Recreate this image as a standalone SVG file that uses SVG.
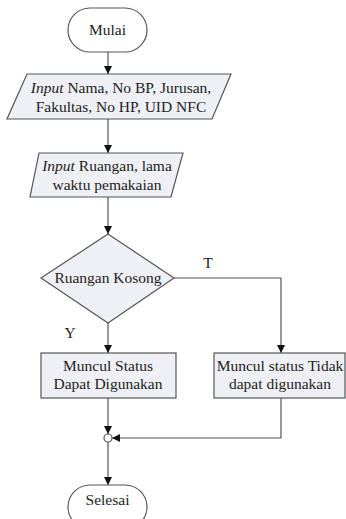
<svg xmlns="http://www.w3.org/2000/svg" width="346" height="519" viewBox="0 0 346 519">
<style>
.s{fill:#eef0f5;stroke:#555;stroke-width:1.2}
.t{font-family:'Liberation Serif','Times New Roman','DejaVu Serif',serif;font-size:15.5px;fill:#222;text-anchor:middle}
.c{fill:none;stroke:#555;stroke-width:1.2}
</style>
<defs>
<marker id="a" markerWidth="8" markerHeight="8" refX="8" refY="4" orient="auto" markerUnits="userSpaceOnUse">
<path d="M0,0 L8,4 L0,8 Z" fill="#111"/>
</marker>
</defs>
<rect width="346" height="519" fill="#fff"/>
<g id="connectors">
<line class="c" x1="108" y1="52" x2="108" y2="74" marker-end="url(#a)"/>
<line class="c" x1="108" y1="119" x2="108" y2="153" marker-end="url(#a)"/>
<line class="c" x1="108" y1="197" x2="108" y2="234" marker-end="url(#a)"/>
<line class="c" x1="108" y1="323" x2="108" y2="353" marker-end="url(#a)"/>
<polyline class="c" points="174,278 281,278 281,353" marker-end="url(#a)"/>
<line class="c" x1="108" y1="398" x2="108" y2="434" marker-end="url(#a)"/>
<polyline class="c" points="281,398 281,438 112,438" marker-end="url(#a)"/>
<line class="c" x1="108" y1="442" x2="108" y2="485" marker-end="url(#a)"/>
<text class="t" x="208" y="268" font-family="Liberation Serif, serif">T</text>
<text class="t" x="70" y="338" font-family="Liberation Serif, serif">Y</text>
</g>
<g id="mulai">
<rect x="68" y="8" width="79" height="44" rx="22" ry="22" fill="#fff" stroke="#555" stroke-width="1.2"/>
<text class="t" x="107.5" y="35" font-family="Liberation Serif, serif">Mulai</text>
</g>
<g id="input1">
<polygon class="s" points="27,74 231,74 212,119 7,119"/>
<text class="t" x="121" y="93" font-family="Liberation Serif, serif"><tspan font-style="italic">Input</tspan> Nama, No BP, Jurusan,</text>
<text class="t" x="121" y="112" font-family="Liberation Serif, serif">Fakultas, No HP, UID NFC</text>
</g>
<g id="input2">
<polygon class="s" points="39,153 183,153 171,197 30,197"/>
<text class="t" x="107" y="171" font-family="Liberation Serif, serif"><tspan font-style="italic">Input</tspan> Ruangan, lama</text>
<text class="t" x="107" y="190" font-family="Liberation Serif, serif">waktu pemakaian</text>
</g>
<g id="decision">
<polygon class="s" points="108,234 174,278 108,323 41,278"/>
<text class="t" x="108" y="283" font-family="Liberation Serif, serif">Ruangan Kosong</text>
</g>
<g id="dapat">
<rect class="s" x="41" y="353" width="135" height="45"/>
<text class="t" x="108" y="371" font-family="Liberation Serif, serif">Muncul Status</text>
<text class="t" x="108" y="389" font-family="Liberation Serif, serif">Dapat Digunakan</text>
</g>
<g id="tidak">
<rect class="s" x="214" y="353" width="131" height="45"/>
<text class="t" x="280" y="371" font-family="Liberation Serif, serif">Muncul status Tidak</text>
<text class="t" x="280" y="389" font-family="Liberation Serif, serif">dapat digunakan</text>
</g>
<g id="merge">
<circle cx="108" cy="438" r="4" fill="#fff" stroke="#555" stroke-width="1.2"/>
</g>
<g id="selesai">
<rect x="68" y="485" width="79" height="44" rx="22" ry="22" fill="#fff" stroke="#555" stroke-width="1.2"/>
<text class="t" x="107.5" y="505" font-family="Liberation Serif, serif">Selesai</text>
</g>
</svg>
